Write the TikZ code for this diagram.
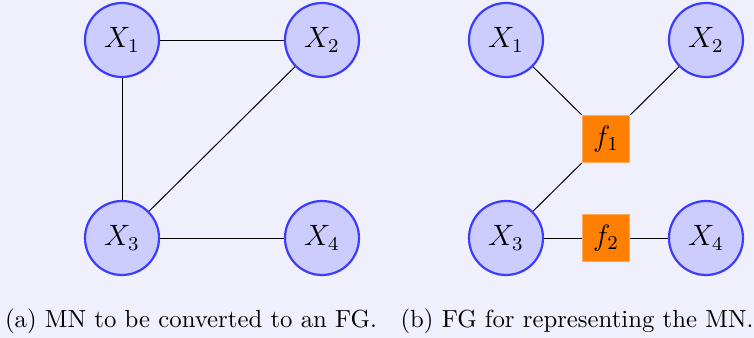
\documentclass[tikz,border=0pt]{standalone}
\usetikzlibrary{positioning}
\definecolor{bgc}{RGB}{240,240,252}
\definecolor{nodefill}{RGB}{204,204,255}
\definecolor{nodedraw}{RGB}{60,60,255}
\definecolor{facfill}{RGB}{255,128,0}
\definecolor{facdraw}{RGB}{255,170,90}
\begin{document}
\begin{tikzpicture}[x=0.408pt,y=-0.408pt,
  var/.style={circle,draw=nodedraw,fill=nodefill,line width=0.9pt,minimum size=74*0.408pt,inner sep=0pt,font=\large},
  fac/.style={rectangle,draw=facdraw,fill=facfill,line width=0.8pt,minimum size=47*0.408pt,inner sep=0pt,font=\large},
  edge/.style={draw=black,line width=0.4pt},
  captxt/.style={inner sep=0pt,anchor=base,font=\fontsize{10.1}{12}\selectfont}]
\fill[bgc] (0,0) rectangle (754,338);
\useasboundingbox (0,0) rectangle (754,338);
% left panel
\node[var] (a1) at (122,40) {$X_1$};
\node[var] (a2) at (322,40) {$X_2$};
\node[var] (a3) at (122,238) {$X_3$};
\node[var] (a4) at (322,238) {$X_4$};
\draw[edge] (a1) -- (a2);
\draw[edge] (a1) -- (a3);
\draw[edge] (a3) -- (a2);
\draw[edge] (a3) -- (a4);
% right panel
\node[var] (b1) at (506,40) {$X_1$};
\node[var] (b2) at (706,40) {$X_2$};
\node[var] (b3) at (506,238) {$X_3$};
\node[var] (b4) at (706,238) {$X_4$};
\node[fac] (f1) at (606,139) {$f_1$};
\node[fac] (f2) at (606,238) {$f_2$};
\draw[edge] (b1) -- (f1);
\draw[edge] (b2) -- (f1);
\draw[edge] (b3) -- (f1);
\draw[edge] (b3) -- (f2);
\draw[edge] (f2) -- (b4);
% captions
\node[captxt] (ca) at (191,327) {(a) MN to be converted to an FG.};
\node[captxt] (cb) at (577,327) {(b) FG for representing the MN.};
\end{tikzpicture}
\end{document}
